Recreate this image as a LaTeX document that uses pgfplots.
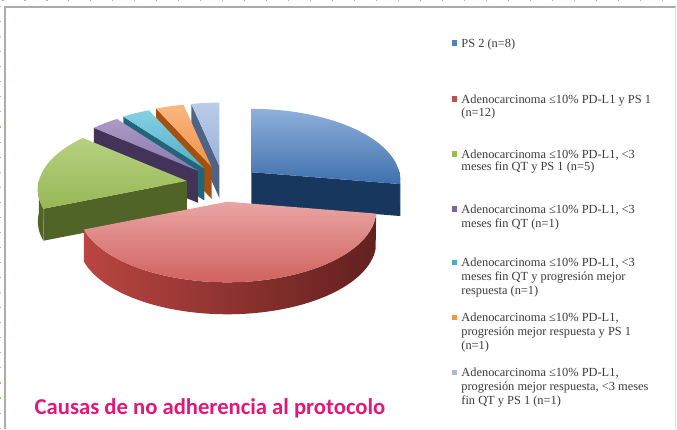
\documentclass[border=0pt]{standalone}
\usepackage{fontspec}
\setmainfont{Liberation Serif}
\newfontfamily\titlefont{Carlito}
\usepackage{pgfplots}
\usepackage{pgfplotstable}
\pgfplotsset{compat=1.18}

\definecolor{bluetopA}{HTML}{8EB0DA}
\definecolor{bluetopB}{HTML}{3F70AE}
\definecolor{bluesideA}{HTML}{1E416B}
\definecolor{bluesideB}{HTML}{17375E}
\definecolor{redtopA}{HTML}{E9A5A3}
\definecolor{redtopB}{HTML}{D0625E}
\definecolor{redsideA}{HTML}{BA4541}
\definecolor{redsideB}{HTML}{8A302C}
\definecolor{redsideC}{HTML}{62211F}
\definecolor{greentopA}{HTML}{B7D180}
\definecolor{greentopB}{HTML}{97B756}
\definecolor{greenside}{HTML}{506428}
\definecolor{purpletopA}{HTML}{AB9AC6}
\definecolor{purpletopB}{HTML}{8C77B0}
\definecolor{purpleside}{HTML}{433358}
\definecolor{cyantopA}{HTML}{86D0E3}
\definecolor{cyantopB}{HTML}{4FAFC8}
\definecolor{cyanside}{HTML}{22657A}
\definecolor{orangetopA}{HTML}{FAB681}
\definecolor{orangetopB}{HTML}{F39249}
\definecolor{orangeside}{HTML}{A4500F}
\definecolor{lbtopA}{HTML}{BACCE8}
\definecolor{lbtopB}{HTML}{9BB3DA}
\definecolor{lbside}{HTML}{4E6385}
\definecolor{legblue}{HTML}{4F81BD}
\definecolor{legred}{HTML}{C0504D}
\definecolor{leggreen}{HTML}{9BBB59}
\definecolor{legpurple}{HTML}{8064A2}
\definecolor{legcyan}{HTML}{4BACC6}
\definecolor{legorange}{HTML}{F79646}
\definecolor{leglb}{HTML}{A9BAD9}
\definecolor{titlemag}{HTML}{E2177A}
\definecolor{legtext}{HTML}{3A3A3A}

% number of patients per cause
\pgfplotstableread{
n
8
12
5
1
1
1
1
}\piedata

\pgfplotstablegetelem{0}{n}\of\piedata \edef\nA{\pgfplotsretval}
\pgfplotstablegetelem{1}{n}\of\piedata \edef\nB{\pgfplotsretval}
\pgfplotstablegetelem{2}{n}\of\piedata \edef\nC{\pgfplotsretval}
\pgfplotstablegetelem{3}{n}\of\piedata \edef\nD{\pgfplotsretval}
\pgfplotstablegetelem{4}{n}\of\piedata \edef\nE{\pgfplotsretval}
\pgfplotstablegetelem{5}{n}\of\piedata \edef\nF{\pgfplotsretval}
\pgfplotstablegetelem{6}{n}\of\piedata \edef\nG{\pgfplotsretval}
\pgfmathsetmacro\tot{\nA+\nB+\nC+\nD+\nE+\nF+\nG}
\pgfmathsetmacro\aA{90}
\pgfmathsetmacro\aB{\aA-360*\nA/\tot}
\pgfmathsetmacro\aC{\aB-360*\nB/\tot}
\pgfmathsetmacro\aD{\aC-360*\nC/\tot}
\pgfmathsetmacro\aE{\aD-360*\nD/\tot}
\pgfmathsetmacro\aF{\aE-360*\nE/\tot}
\pgfmathsetmacro\aG{\aF-360*\nF/\tot}
\pgfmathsetmacro\aH{\aG-360*\nG/\tot}

\newcommand\depth{32}
% apex of an exploded slice from its two edge angles
\newcommand\apex[2]{%
  \pgfmathsetmacro\mm{(#1+#2)/2}%
  \pgfmathsetmacro\ax{224+37*cos(\mm)}%
  \pgfmathsetmacro\ay{184-18*sin(\mm)}%
  \pgfmathsetmacro\ayb{\ay+\depth}%
}
% top face: #1 a1, #2 a2, #3 top colour, #4 bottom colour
\newcommand\slicetop[4]{%
  \apex{#1}{#2}%
  \edef\tmp{\noexpand\addplot[draw=none, top color=#3, bottom color=#4,
    domain=#2:#1, samples=60, variable=\noexpand\t]
    ({px(\noexpand\t,\ax)},{py(\noexpand\t,\ay)}) -- (axis cs:\ax,\ay) -- cycle;}%
  \tmp}
% radial face: #1 a1, #2 a2, #3 angle of face, #4 colour
\newcommand\sliceside[4]{%
  \apex{#1}{#2}%
  \pgfmathsetmacro\ox{px(#3,\ax)}%
  \pgfmathsetmacro\oy{py(#3,\ay)}%
  \pgfmathsetmacro\oyb{\oy+\depth}%
  \edef\tmp{\noexpand\addplot[draw=none, fill=#4]
    coordinates {(\ax,\ay) (\ox,\oy) (\ox,\oyb) (\ax,\ayb) (\ax,\ay)};}%
  \tmp}
% outer curved face: #1 a1, #2 a2, #3 lo, #4 hi, #5 #6 #7 colours
\newcommand\slicecurve[7]{%
  \apex{#1}{#2}%
  \edef\tmp{\noexpand\addplot[draw=none, left color=#5, middle color=#6, right color=#7,
    domain=0:2, samples=121, variable=\noexpand\t]
    ({px(cth(\noexpand\t,#3,#4),\ax)},{py(cth(\noexpand\t,#3,#4),\ay)+\depth*(\noexpand\t>1)}) -- cycle;}%
  \tmp}

\newcommand\legline[2]{\node[anchor=base west, inner sep=0pt, text=legtext,
  font=\fontsize{9.3}{11}\selectfont] at (axis cs:462,#1) {#2};}
\newcommand\legsq[2]{\fill[#2] (axis cs:452.5,#1-7) rectangle (axis cs:458,#1-1.5);}

\begin{document}
\begin{tikzpicture}[declare function={
    sc(\qa)=1-0.12*sin(\qa);
    px(\qa,\qb)=\qb+148*sc(\qa)*cos(\qa);
    py(\qa,\qb)=\qb-72*sc(\qa)*sin(\qa);
    cth(\qt,\qa,\qb)=(\qt<=1)*(\qa+(\qb-\qa)*\qt)+(\qt>1)*(\qb-(\qb-\qa)*(\qt-1));
  }]
\begin{axis}[
  scale only axis, width=507.75pt, height=321.75pt,
  xmin=0, xmax=677, ymin=0, ymax=429, y dir=reverse,
  hide axis, clip=false]

% frame
\draw[gray!65, line width=1.5pt] (axis cs:5.5,429) -- (axis cs:5.5,7.5) -- (axis cs:677,7.5);
\draw[gray!25, line width=0.75pt] (axis cs:676,7.5) -- (axis cs:676,429);
\draw[green!55!black!45, line width=1pt, dash pattern=on 0.8pt off 10.5pt] (axis cs:1.2,429) -- (axis cs:1.2,3);
\draw[green!55!black!45, line width=1pt, dash pattern=on 0.8pt off 15.7pt] (axis cs:3,0.7) -- (axis cs:677,0.7);

% pie, back to front
\sliceside{\aG}{\aH}{\aG}{lbside}
\slicetop{\aG}{\aH}{lbtopA}{lbtopB}
\sliceside{\aF}{\aG}{\aF}{orangeside}
\slicetop{\aF}{\aG}{orangetopA}{orangetopB}
\sliceside{\aE}{\aF}{\aE}{cyanside}
\slicetop{\aE}{\aF}{cyantopA}{cyantopB}
\sliceside{\aD}{\aE}{\aD}{purpleside}
\slicetop{\aD}{\aE}{purpletopA}{purpletopB}
\sliceside{\aA}{\aB}{\aB}{bluesideB}
\slicecurve{\aA}{\aB}{\aB}{0}{bluesideA}{bluesideA}{bluesideB}
\slicetop{\aA}{\aB}{bluetopA}{bluetopB}
\sliceside{\aC}{\aD}{\aC}{greenside}
\slicecurve{\aC}{\aD}{-180}{\aC}{greenside}{greenside}{greenside}
\slicetop{\aC}{\aD}{greentopA}{greentopB}
\slicecurve{\aB}{\aC}{\aC}{\aB}{redsideA}{redsideB}{redsideC}
\slicetop{\aB}{\aC}{redtopA}{redtopB}

% legend
\legsq{47.5}{legblue}
\legline{47.5}{PS 2 (n=8)}
\legsq{103.5}{legred}
\legline{103.5}{Adenocarcinoma ≤10\% PD-L1 y PS 1}
\legline{117}{(n=12)}
\legsq{158.5}{leggreen}
\legline{158.5}{Adenocarcinoma ≤10\% PD-L1, <3}
\legline{171}{meses fin QT y PS 1 (n=5)}
\legsq{213.5}{legpurple}
\legline{213.5}{Adenocarcinoma ≤10\% PD-L1, <3}
\legline{227.5}{meses fin QT (n=1)}
\legsq{267}{legcyan}
\legline{267}{Adenocarcinoma ≤10\% PD-L1, <3}
\legline{281}{meses fin QT y progresión mejor}
\legline{295}{respuesta (n=1)}
\legsq{322}{legorange}
\legline{322}{Adenocarcinoma ≤10\% PD-L1,}
\legline{335.5}{progresión mejor respuesta y PS 1}
\legline{350}{(n=1)}
\legsq{377}{leglb}
\legline{377}{Adenocarcinoma ≤10\% PD-L1,}
\legline{390.5}{progresión mejor respuesta, <3 meses}
\legline{405}{fin QT y PS 1 (n=1)}

% title
\node[anchor=base west, inner sep=0pt, text=titlemag,
  font=\titlefont\bfseries\fontsize{17}{20}\selectfont] at (axis cs:35,414.5)
  {Causas de no adherencia al protocolo};
\end{axis}
\end{tikzpicture}
\end{document}
